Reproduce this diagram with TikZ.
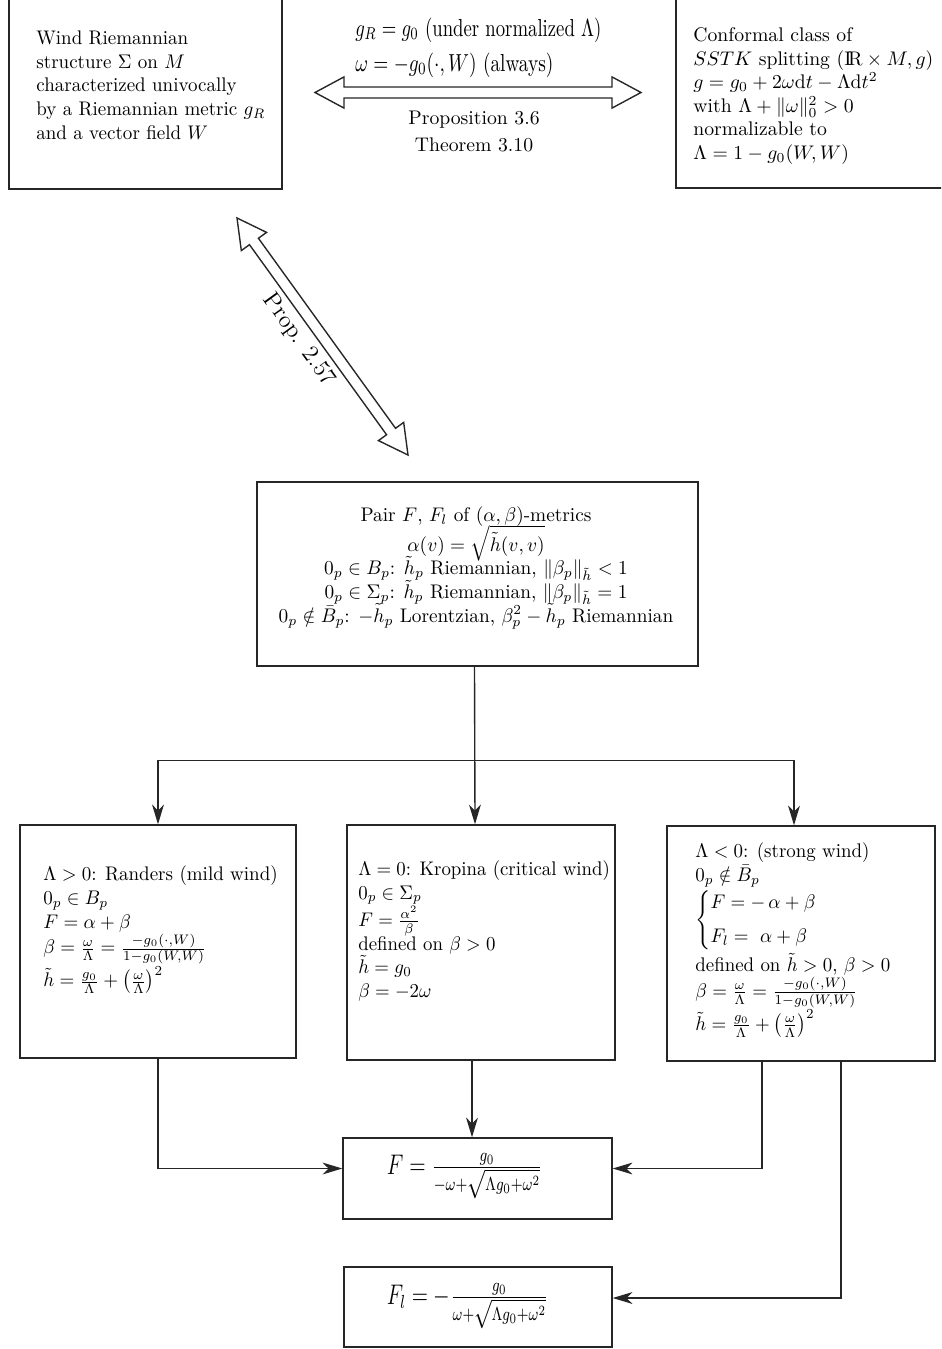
\documentclass[tikz,border=0pt]{standalone}
\usepackage{amsmath,amssymb}
\usetikzlibrary{calc,arrows.meta}
\newcommand\pxu{0.5076pt}
\newcommand\arL{14.7pt}
\newcommand\arH{7.9pt}
\newcommand\arS{2.8pt}
\newcommand\dblarrow[2]{%
 \draw[hollow] (#1)
 -- ($(#1)!\arL!(#2)!\arH!90:(#2)$)
 -- ($(#1)!\arL!(#2)!\arS!90:(#2)$)
 -- ($(#2)!\arL!(#1)!\arS!-90:(#1)$)
 -- ($(#2)!\arL!(#1)!\arH!-90:(#1)$)
 -- (#2)
 -- ($(#2)!\arL!(#1)!\arH!90:(#1)$)
 -- ($(#2)!\arL!(#1)!\arS!90:(#1)$)
 -- ($(#1)!\arL!(#2)!\arS!-90:(#2)$)
 -- ($(#1)!\arL!(#2)!\arH!-90:(#2)$)
 -- cycle;}
\tikzset{
 box/.style 2 args={draw=black!85, line width=.7pt, minimum width=#1*\pxu, minimum height=#2*\pxu, inner sep=0pt},
 txt/.style={inner sep=0pt, align=left, anchor=west},
 sc/.style 2 args={transform shape, xscale=#1, yscale=#2},
 tight/.style={font={\lineskiplimit=-100pt}},
 arr/.style={draw=black!85, line width=.7pt, -{Stealth[length=10pt,width=6pt,inset=3pt]}},
 hollow/.style={draw=black!85, line width=.7pt, fill=white, line join=miter},
}
\begin{document}
\begin{tikzpicture}[x=0.5076pt, y=-0.5076pt]
\useasboundingbox (0,0) rectangle (941,1349);
\clip (0,0) rectangle (941,1349);
% top boxes
\node[box={273}{208}] (b1) at (145.5,85) {};
\node[txt, sc={0.965}{1}] (t1) at (36,85) {Wind Riemannian\\ structure $\Sigma$ on $M$\\ characterized univocally\\ by a Riemannian metric $g_R$\\ and a vector field $W$};
\node[box={284}{208}] (b2) at (818,84) {};
\node[txt] (t2) at (693,96) {Conformal class of\\ $SSTK$ splitting $(\mathrm{I\!R}\times M,g)$\\ $g=g_0+2\omega\mathrm{d}t-\Lambda\mathrm{d}t^2$\\ with $\Lambda+\|\omega\|_0^2>0$\\ normalizable to\\ $\Lambda=1-g_0(W,W)$};
% horizontal double arrow
\coordinate (hA) at (315,92.5);
\coordinate (hB) at (641,92.5);
\dblarrow{hA}{hB}
\node[txt, sc={0.95}{1.25}] (lab1) at (355,30) {$g_R=g_0$ (under normalized $\Lambda$)};
\node[txt, sc={0.98}{1.25}] (lab2) at (355,65) {$\omega=-g_0(\cdot,W)$ (always)};
\node[inner sep=0pt, align=center] (lab3) at (474,131.5) {Proposition 3.6\\[1.7pt] Theorem 3.10};
% diagonal double arrow
\coordinate (dA) at (237,218);
\coordinate (dB) at (408,455);
\dblarrow{dA}{dB}
\node[inner sep=0pt, rotate=-54.2, font=\large] (prop) at (299,340) {Prop. 2.57};
% pair box
\node[box={441}{184}] (pair) at (477.5,574) {};
\node[inner sep=0pt, align=center, tight, sc={0.98}{1}] (t3) at (476,568) {Pair $F$, $F_l$ of $(\alpha,\beta)$-metrics\\[3.2pt]
$\alpha(v)=\sqrt{\tilde h(v,v)}$\\
$0_p\in B_p$: $\tilde h_p$ Riemannian, $\|\beta_p\|_{\tilde h}<1$\\
$0_p\in \Sigma_p$: $\tilde h_p$ Riemannian, $\|\beta_p\|_{\tilde h}=1$\\
$0_p\notin \bar B_p$: $-\tilde h_p$ Lorentzian, $\beta_p^2-\tilde h_p$ Riemannian};
% three cases
\node[box={276}{233}] (rand) at (158,941.5) {};
\node[txt, sc={0.965}{1}] (t4) at (43,930) {$\Lambda>0$: Randers (mild wind)\\ $0_p\in B_p$\\ $F=\alpha+\beta$\\ $\beta=\frac{\omega}{\Lambda}=\frac{-g_0(\cdot,W)}{1-g_0(W,W)}$\\ $\tilde h=\frac{g_0}{\Lambda}+\left(\frac{\omega}{\Lambda}\right)^2$};
\node[box={268}{235}] (krop) at (481,942.5) {};
\node[txt, sc={0.955}{1}] (t5) at (358,931) {$\Lambda=0$: Kropina (critical wind)\\ $0_p\in\Sigma_p$\\ $F=\frac{\alpha^2}{\beta}$\\ defined on $\beta>0$\\ $\tilde h=g_0$\\ $\beta=-2\omega$};
\node[box={268}{235}] (strong) at (801,943.5) {};
\node[txt, sc={0.96}{1}] (t6) at (695,940) {$\Lambda<0$: (strong wind)\\ $0_p\notin\bar B_p$\\ $\begin{cases}F=-\,\alpha+\beta\\[3pt] F_l=\ \alpha+\beta\end{cases}$\\ defined on $\tilde h>0$, $\beta>0$\\ $\beta=\frac{\omega}{\Lambda}=\frac{-g_0(\cdot,W)}{1-g_0(W,W)}$\\ $\tilde h=\frac{g_0}{\Lambda}+\left(\frac{\omega}{\Lambda}\right)^2$};
% result boxes
\node[box={269}{81}] (fbox) at (477.5,1178.5) {};
\node[inner sep=0pt, sc={0.91}{1.2}] (t7) at (464.5,1176) {\large $F=\frac{g_0}{-\omega+\sqrt{\Lambda g_0+\omega^2}}$};
\node[box={268}{80}] (fl) at (478,1307) {};
\node[inner sep=0pt, sc={0.9}{1.2}] (t8) at (467.5,1306) {\large $F_l=-\frac{g_0}{\omega+\sqrt{\Lambda g_0+\omega^2}}$};
% connectors
\coordinate (j) at ($(pair.south)+(-3,94)$);
\draw[arr] ($(pair.south)+(-3,0)$) -- ($(krop.north)+(-6,0)$);
\draw[arr] (j) -| (rand.north);
\draw[arr] (j) -| ($(strong.north)+(-7,0)$);
\draw[arr] (rand.south) |- ($(fbox.west)+(0,-10)$);
\draw[arr] ($(krop.south)+(-9,0)$) -- ($(fbox.north)+(-5.5,0)$);
\draw[arr] ($(strong.south)+(-39,0)$) |- ($(fbox.east)+(0,-10)$);
\draw[arr] ($(strong.south)+(40,0)$) |- ($(fl.east)+(0,-9)$);
\end{tikzpicture}
\end{document}
